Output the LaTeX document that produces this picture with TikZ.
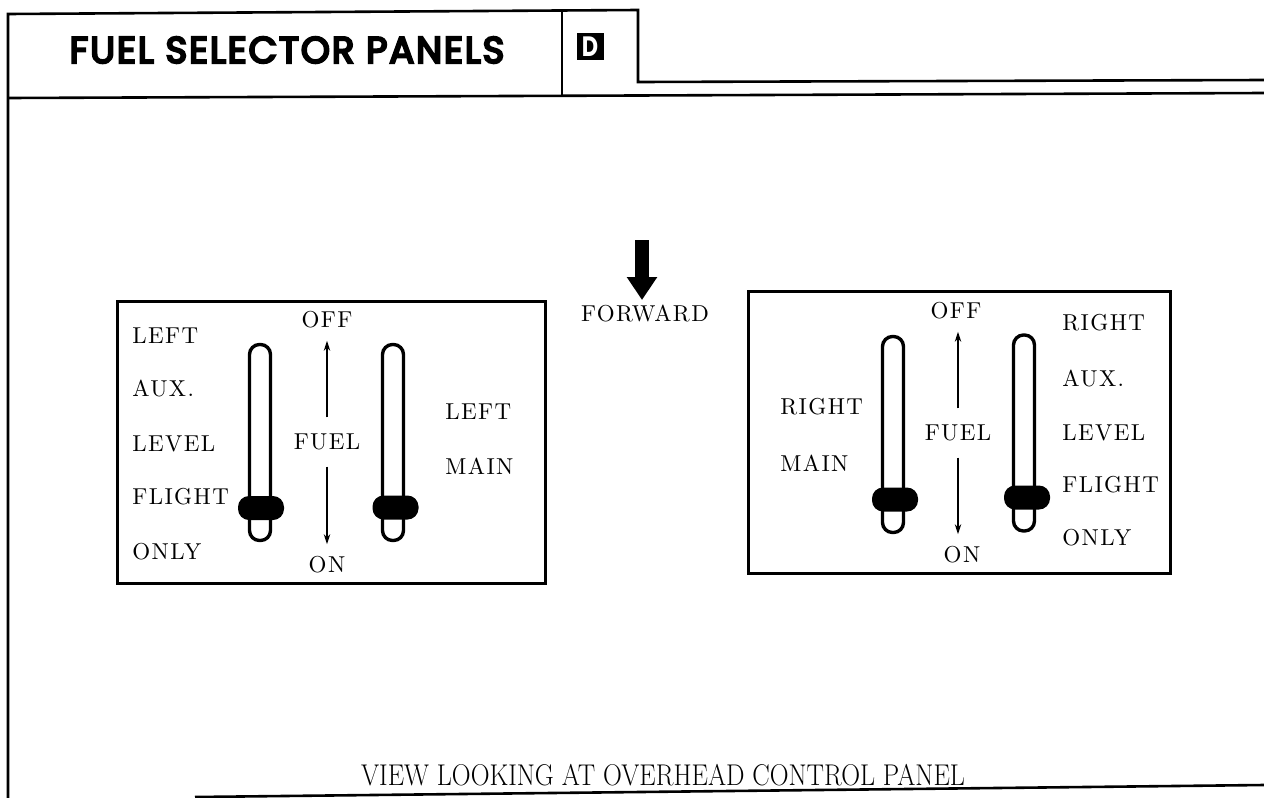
\documentclass[tikz,border=0pt]{standalone}
\usepackage{fontspec}
\newfontfamily\titlefont{Poppins}[LetterSpace=5, FakeBold=6]
\newfontfamily\tabfont{Poppins}
\newfontfamily\lblfont{lmroman10-regular}[Extension=.otf, LetterSpace=6]
\usetikzlibrary{positioning,arrows.meta}

\begin{document}
\begin{tikzpicture}[
    x=0.5pt, y=-0.5pt,
    >={Stealth[length=5pt,width=3.2pt]},
    rule/.style={line width=1.3pt},
    panel/.style={draw, line width=1.5pt, minimum width=212pt, minimum height=141pt, inner sep=0pt},
    slot/.style={draw, line width=1.7pt, fill=white, rounded corners=5pt, minimum width=10.5pt,
                 minimum height=98pt, inner sep=0pt},
    knob/.style={fill=black, rounded corners=5.5pt, minimum width=23pt, minimum height=12pt, inner sep=0pt},
    lbl/.style={font=\lblfont\fontsize{11.5}{13}\selectfont, inner sep=1pt},
    fuel/.style={lbl, inner ysep=8pt},
    feed/.style={->, line width=0.6pt},
  ]
    \useasboundingbox (0,0) rectangle (1264,798);

    % header frame
    \draw[rule] (8,798) -- (8,14) -- (638,10) -- (638,82) -- (1264,80);
    \draw[rule] (562,12) -- (562,96);
    \draw[rule] (8,98) -- (1264,93);
    \draw[rule] (195,797) -- (1264,785);

    \node[font=\titlefont\fontsize{18.5}{20}\selectfont, inner sep=0pt] (title) at (287,50)
      {FUEL SELECTOR PANELS};
    \node[fill=black, text=white, font=\tabfont\bfseries\fontsize{14}{14}\selectfont,
          minimum size=13.5pt, inner sep=0pt] (tab) at (590,46.5) {\scalebox{0.8}[1]{D}};

    % forward marker
    \node[lbl] (fwd) at (645,314) {FORWARD};
    \coordinate (fwdtail) at (642,240);
    \coordinate (fwdtip) at (642,300);
    \draw[line width=7pt, -{Triangle[width=14.5pt,length=11.5pt]}] (fwdtail) -- (fwdtip);

    % left panel
    \node[panel, minimum width=214pt] (pl) at (331,442.5) {};
    \node[slot] (sl1) at (260,442.5) {};
    \node[knob] (kl1) at (261,508) {};
    \node[slot] (sl2) at (393,442.5) {};
    \node[knob] (kl2) at (395.5,507.5) {};
    \foreach \t/\yy [count=\i] in {LEFT/336, AUX./389, LEVEL/444, FLIGHT/497, ONLY/552}
      \node[lbl, anchor=west] (al\i) at (130,\yy) {\t};
    \node[lbl, anchor=west] (ml1) at (443,412) {LEFT};
    \node[lbl, anchor=west] (ml2) at (443,466) {MAIN};
    \node[lbl] (offl) at (327,320) {OFF};
    \node[lbl] (onl) at (327,565) {ON};
    \node[fuel] (fuell) at (327,442) {FUEL};
    \draw[feed] (fuell.north) -- ([yshift=-5pt]offl.south);
    \draw[feed] (fuell.south) -- ([yshift=5pt]onl.north);

    % right panel
    \node[panel, minimum width=211pt] (pr) at (959,432.5) {};
    \node[slot] (sr1) at (893,434.5) {};
    \node[knob] (kr1) at (895,499.5) {};
    \node[slot] (sr2) at (1024,433) {};
    \node[knob] (kr2) at (1027,497.5) {};
    \node[lbl, anchor=west] (mr1) at (778,407) {RIGHT};
    \node[lbl, anchor=west] (mr2) at (778,463) {MAIN};
    \foreach \t/\yy [count=\i] in {RIGHT/323, AUX./379, LEVEL/433, FLIGHT/485, ONLY/538}
      \node[lbl, anchor=west] (ar\i) at (1060,\yy) {\t};
    \node[lbl] (offr) at (956,311) {OFF};
    \node[lbl] (onr) at (962,555) {ON};
    \node[fuel] (fuelr) at (958,433) {FUEL};
    \draw[feed] (fuelr.north) -- ([yshift=-5pt]fuelr.north |- offr.south);
    \draw[feed] (fuelr.south) -- ([yshift=5pt]fuelr.south |- onr.north);

    \node[font=\rmfamily\fontsize{15}{17}\selectfont, inner sep=0pt] (view) at (663,775)
      {\scalebox{0.87}[1]{VIEW LOOKING AT OVERHEAD CONTROL PANEL}};
  \end{tikzpicture}
\end{document}
